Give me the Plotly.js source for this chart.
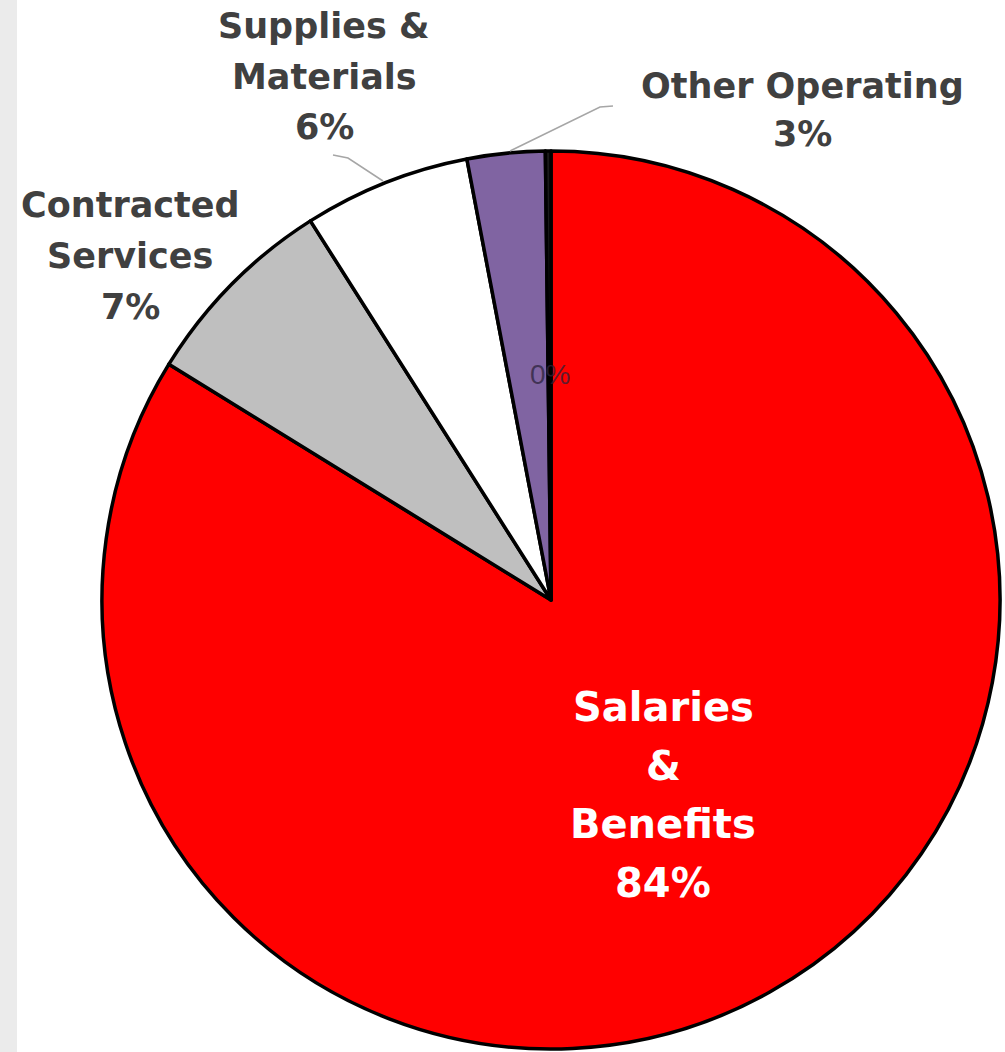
<!DOCTYPE html>
<html>
<head>
<meta charset="utf-8">
<script src="https://cdn.plot.ly/plotly-3.0.1.min.js"></script>
<style>
  html, body { margin: 0; padding: 0; background: #ffffff; }
  #chart { width: 1005px; height: 1052px; }
</style>
</head>
<body>
<div id="chart"></div>
<script>
// ---- data ----
const categories = ["Salaries & Benefits", "Contracted Services", "Supplies & Materials", "Other Operating", "Capital Outlay"];
const values = [83.8, 7.2, 6.0, 2.8, 0.2];
const labelLines = [["Salaries", "&", "Benefits"], ["Contracted", "Services"], ["Supplies &", "Materials"], ["Other Operating"], []];
const sliceColors = ["#ff0000", "#bfbfbf", "#ffffff", "#8064a2", "#1a1a1a"];

// ---- layout helpers ----
const W = 1005, H = 1052;
const px = x => x / W;
const py = y => 1 - y / H;

// label placement (pixels): centre x, first-line centre y, line spacing
const labelStyle = [
  { x: 663, y: 707, dy: 58.5, size: 40, color: "#ffffff", family: "DejaVu Sans", bold: true },
  { x: 130, y: 205, dy: 51, size: 35, color: "#404040", family: "DejaVu Sans", bold: true },
  { x: 324, y: 26, dy: 50.5, size: 35, color: "#404040", family: "DejaVu Sans", bold: true },
  { x: 802, y: 86, dy: 48, size: 35, color: "#404040", family: "DejaVu Sans", bold: true },
  { x: 550, y: 374, dy: 0, size: 28, color: "rgba(45,35,60,0.75)", family: "Liberation Sans", bold: false }
];

const total = values.reduce((a, b) => a + b, 0);
const annotations = [];
categories.forEach((c, i) => {
  const st = labelStyle[i];
  const lines = labelLines[i].concat([Math.round(values[i] / total * 100) + "%"]);
  lines.forEach((t, j) => {
    annotations.push({
      xref: "paper", yref: "paper",
      x: px(st.x), y: py(st.y + j * st.dy),
      xanchor: "center", yanchor: "middle",
      showarrow: false,
      text: st.bold ? "<b>" + t + "</b>" : t,
      font: { family: st.family, size: st.size, color: st.color }
    });
  });
});

function pathOf(pts) {
  return pts.map((p, k) => (k ? "L" : "M") + px(p[0]) + "," + py(p[1])).join(" ");
}

const cx = 551, cy = 600, r = 449;
const trace = {
  type: "pie",
  labels: categories,
  values: values,
  sort: false,
  direction: "clockwise",
  rotation: 0,
  textinfo: "none",
  hoverinfo: "label+percent",
  marker: { colors: sliceColors, line: { color: "#000000", width: 3.5 } },
  domain: { x: [px(cx - r), px(cx + r)], y: [py(cy + r), py(cy - r)] },
  showlegend: false
};

const layout = {
  width: W, height: H,
  margin: { l: 0, r: 0, t: 0, b: 0 },
  paper_bgcolor: "#ffffff",
  showlegend: false,
  annotations: annotations,
  shapes: [
    { type: "rect", xref: "paper", yref: "paper", x0: 0, x1: px(17), y0: 0, y1: 1,
      fillcolor: "#ebebeb", line: { width: 0 }, layer: "below" },
    { type: "path", xref: "paper", yref: "paper", path: pathOf([[333, 155], [348, 158], [383, 181]]),
      line: { color: "#a6a6a6", width: 1.5 }, layer: "above" },
    { type: "path", xref: "paper", yref: "paper", path: pathOf([[613, 106], [600, 107], [510, 151]]),
      line: { color: "#a6a6a6", width: 1.5 }, layer: "above" }
  ]
};

Plotly.newPlot("chart", [trace], layout, { displayModeBar: false, staticPlot: true });
</script>
</body>
</html>
